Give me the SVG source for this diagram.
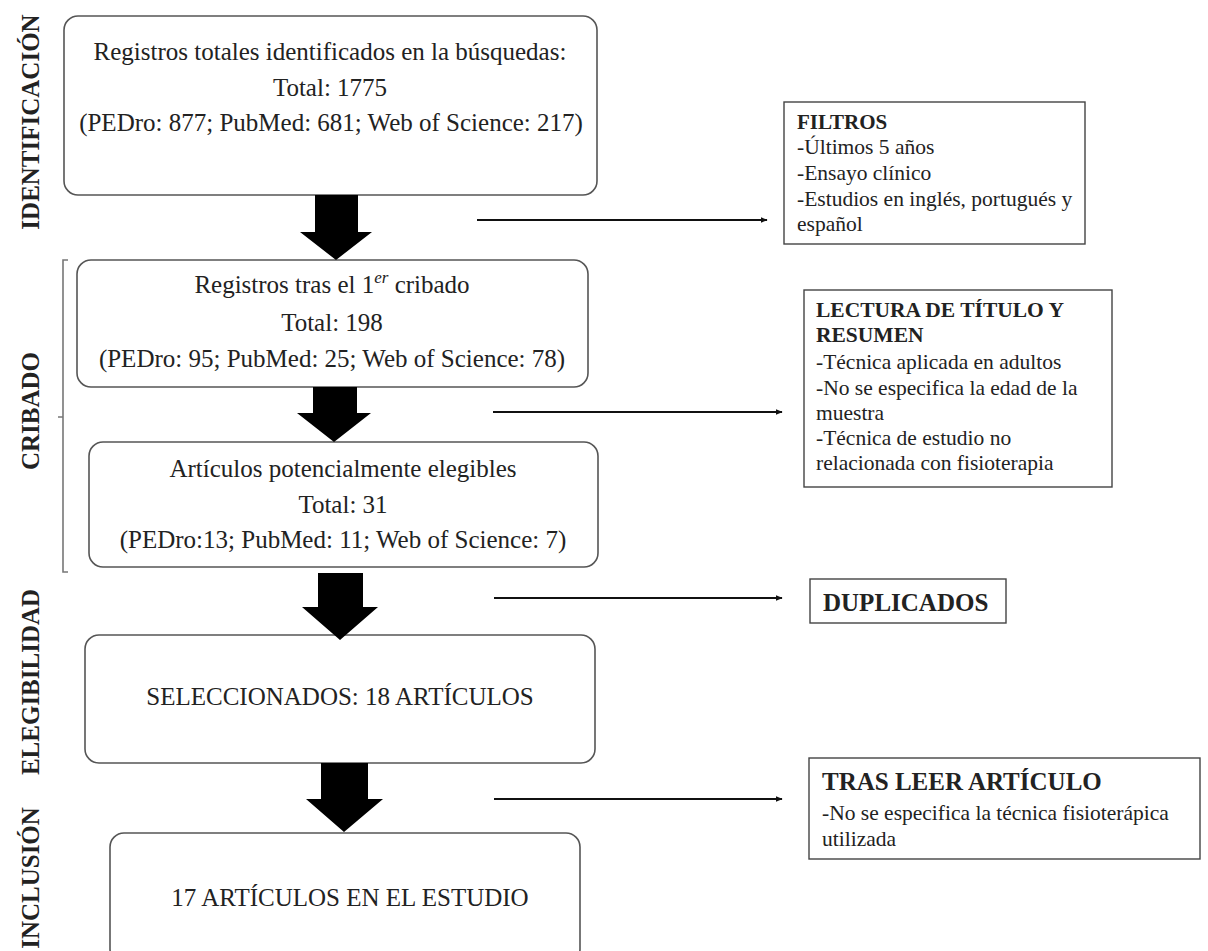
<svg xmlns="http://www.w3.org/2000/svg" width="1208" height="951" viewBox="0 0 1208 951">
<defs>
<style>
.box{fill:#fff;stroke:#555;stroke-width:1.6}
.side{fill:#fff;stroke:#444;stroke-width:1.4}
.t{font-family:"Liberation Serif","Times New Roman",serif;fill:#222}
.m{font-size:25px}
.s{font-size:21.5px}
.b{font-weight:bold}
.lab{font-family:"Liberation Serif","Times New Roman",serif;font-weight:bold;font-size:25px;fill:#222}
.blk{fill:#000}
.con{stroke:#111;stroke-width:2;fill:none}
.brk{stroke:#777;stroke-width:1.6;fill:none}
</style>
<marker id="ah" viewBox="0 0 10 10" refX="9" refY="5" markerWidth="7" markerHeight="7" markerUnits="userSpaceOnUse" orient="auto">
<path d="M0,1 L10,5 L0,9 z" fill="#111"/>
</marker>
</defs>
<rect width="1208" height="951" fill="#fff"/>

<g id="labels">
<text class="lab" transform="translate(39,122) rotate(-90)" text-anchor="middle">IDENTIFICACIÓN</text>
<text class="lab" transform="translate(39,411) rotate(-90)" text-anchor="middle">CRIBADO</text>
<text class="lab" transform="translate(39,682) rotate(-90)" text-anchor="middle">ELEGIBILIDAD</text>
<text class="lab" transform="translate(39,878) rotate(-90)" text-anchor="middle">INCLUSIÓN</text>
<path class="brk" d="M68,260 H63 V572 H68 M63,417 H58"/>
</g>

<g id="n1">
<rect class="box" x="64" y="16" width="533" height="179" rx="14"/>
<text class="t m" x="330" y="60" text-anchor="middle">Registros totales identificados en la búsquedas:</text>
<text class="t m" x="330" y="96" text-anchor="middle">Total: 1775</text>
<text class="t m" x="331" y="131" text-anchor="middle">(PEDro: 877; PubMed: 681; Web of Science: 217)</text>
</g>

<g id="n2">
<rect class="box" x="77" y="260" width="511" height="127" rx="14"/>
<text class="t m" x="332" y="293" text-anchor="middle">Registros tras el 1<tspan font-style="italic" font-size="17" dy="-10">er</tspan><tspan dy="10"> cribado</tspan></text>
<text class="t m" x="332" y="331" text-anchor="middle">Total: 198</text>
<text class="t m" x="332" y="367" text-anchor="middle">(PEDro: 95; PubMed: 25; Web of Science: 78)</text>
</g>

<g id="n3">
<rect class="box" x="89" y="442" width="509" height="125" rx="14"/>
<text class="t m" x="343" y="477" text-anchor="middle">Artículos potencialmente elegibles</text>
<text class="t m" x="343" y="513" text-anchor="middle">Total: 31</text>
<text class="t m" x="343" y="548" text-anchor="middle">(PEDro:13; PubMed: 11; Web of Science: 7)</text>
</g>

<g id="n4">
<rect class="box" x="85" y="635" width="510" height="128" rx="14"/>
<text class="t m" x="340" y="705" text-anchor="middle">SELECCIONADOS: 18 ARTÍCULOS</text>
</g>

<g id="n5">
<rect class="box" x="110" y="833" width="470" height="130" rx="14"/>
<text class="t m" x="350" y="906" text-anchor="middle">17 ARTÍCULOS EN EL ESTUDIO</text>
</g>

<g id="filtros">
<rect class="side" x="784" y="102" width="301" height="142"/>
<text class="t b" font-size="21" x="797" y="129">FILTROS</text>
<text class="t s" x="797" y="154">-Últimos 5 años</text>
<text class="t s" x="797" y="180">-Ensayo clínico</text>
<text class="t s" x="797" y="206">-Estudios en inglés, portugués y</text>
<text class="t s" x="797" y="231">español</text>
</g>

<g id="lectura">
<rect class="side" x="804" y="290" width="308" height="197"/>
<text class="t s b" x="816" y="317">LECTURA DE TÍTULO Y</text>
<text class="t s b" x="816" y="342">RESUMEN</text>
<text class="t s" x="816" y="369">-Técnica aplicada en adultos</text>
<text class="t s" x="816" y="395">-No se especifica la edad de la</text>
<text class="t s" x="816" y="420">muestra</text>
<text class="t s" x="816" y="445">-Técnica de estudio no</text>
<text class="t s" x="816" y="470">relacionada con fisioterapia</text>
</g>

<g id="duplicados">
<rect class="side" x="810" y="579" width="196" height="44"/>
<text class="t b" font-size="25" x="823" y="611">DUPLICADOS</text>
</g>

<g id="tras">
<rect class="side" x="809" y="758" width="391" height="101"/>
<text class="t b" font-size="25" x="822" y="790">TRAS LEER ARTÍCULO</text>
<text class="t s" x="822" y="820">-No se especifica la técnica fisioterápica</text>
<text class="t s" x="822" y="846">utilizada</text>
</g>

<g id="connectors">
<polygon class="blk" points="315,195 358,195 358,232 372,232 336,260 300,232 315,232"/>
<polygon class="blk" points="313,387 357,387 357,413 371,413 334,442 297,413 313,413"/>
<polygon class="blk" points="318,573 363,573 363,607 378,607 340,640 302,607 318,607"/>
<polygon class="blk" points="321,763 368,763 368,799 383,799 344,832 306,799 321,799"/>
<line class="con" x1="477" y1="220" x2="767" y2="220" marker-end="url(#ah)"/>
<line class="con" x1="493" y1="412" x2="782" y2="412" marker-end="url(#ah)"/>
<line class="con" x1="494" y1="598" x2="782" y2="598" marker-end="url(#ah)"/>
<line class="con" x1="494" y1="799" x2="782" y2="799" marker-end="url(#ah)"/>
</g>
</svg>
